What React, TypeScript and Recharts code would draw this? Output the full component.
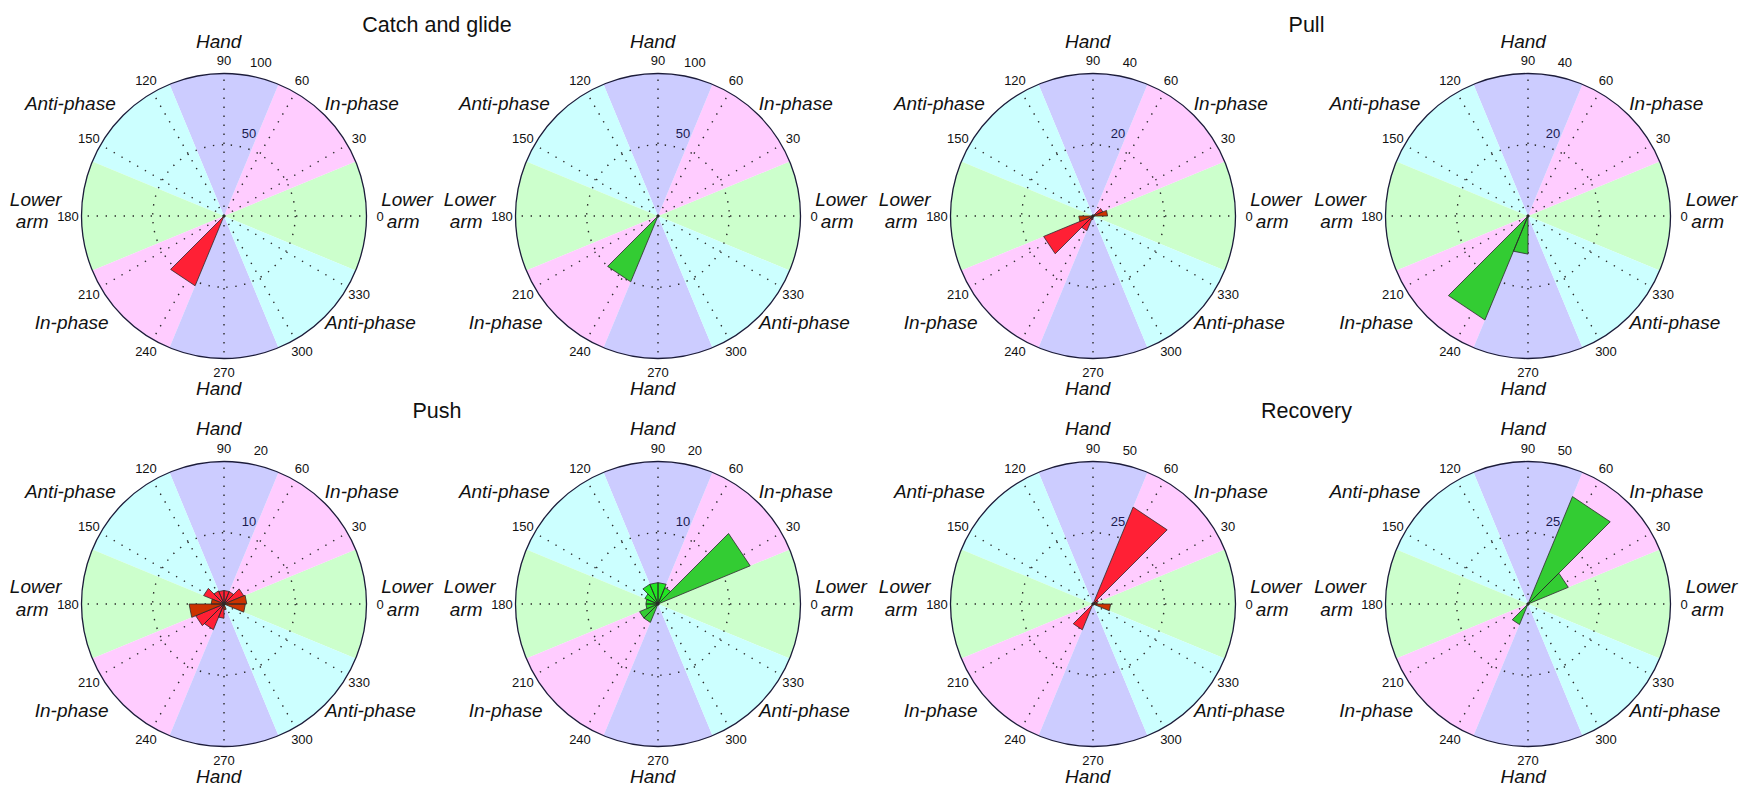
import React from 'react';
import {
  PieChart,
  Pie,
  Cell,
  RadarChart,
  Radar,
  PolarGrid,
  PolarAngleAxis,
  PolarRadiusAxis,
} from 'recharts';

// ---------------- data ----------------
// 16 angular bins of 22.5 deg, bin i spans [i*22.5, (i+1)*22.5], counter-clockwise from 0 deg
const BIN_STARTS = [0, 22.5, 45, 67.5, 90, 112.5, 135, 157.5, 180, 202.5, 225, 247.5, 270, 292.5, 315, 337.5];
const ANGLE_TICKS = [0, 30, 60, 90, 120, 150, 180, 210, 240, 270, 300, 330];
const ZONES = ['Lower arm', 'In-phase', 'Hand', 'Anti-phase', 'Lower arm', 'In-phase', 'Hand', 'Anti-phase'];
const PHASE_TITLES = ['Catch and glide', 'Pull', 'Push', 'Recovery'];
const RADIAL_MAX = [100, 40, 20, 50];

const catchRed =         [0, 0, 0, 0, 0, 0, 0, 0, 0, 0, 53, 0, 0, 0, 0, 0];
const catchRedDark =     [0, 0, 0, 0, 0, 0, 0, 0, 0, 0, 0, 0, 0, 0, 0, 0];
const catchGreen =       [0, 0, 0, 0, 0, 0, 0, 0, 0, 0, 50, 0, 0, 0, 0, 0];
const catchGreenLight =  [0, 0, 0, 0, 0, 0, 0, 0, 0, 0, 0, 0, 0, 0, 0, 0];

const pullRed =          [0, 3, 0, 0, 0, 0, 0, 0, 0, 15, 4.5, 1, 0, 0, 0, 0];
const pullRedDark =      [4.1, 0, 0, 0, 0, 0, 0, 0, 4, 0, 0, 0, 0, 0, 0, 0];
const pullGreen =        [0, 0, 0, 0, 0, 0, 0, 0, 0, 0, 31.6, 10.7, 0, 0, 0, 0];
const pullGreenLight =   [0, 0, 0, 0, 0, 0, 0, 0, 0, 0, 0, 0, 0, 0, 0, 0];

const pushRed =          [0, 3, 1.9, 1.9, 1.9, 2, 3.1, 0, 0, 4.3, 3.9, 2, 0, 0, 0, 0];
const pushRedDark =      [3.2, 0, 0, 0, 0, 0, 0, 1.8, 4.9, 0, 0, 0, 0.8, 0, 0, 3];
const pushGreen =        [0, 14, 0, 0, 0, 0, 0, 0, 0, 2.8, 2.8, 0, 0, 0, 0, 0];
const pushGreenLight =   [0, 0, 2.5, 3, 3, 3, 2, 1.7, 1.7, 0, 0, 0, 0, 0, 0, 0];

const recoveryRed =      [0, 2, 36.8, 0, 0, 0, 0, 0, 0, 0, 9.8, 0, 0, 0, 0, 0];
const recoveryRedDark =  [1.5, 0, 0, 0, 0, 0, 0, 0, 0, 0, 0, 0, 0, 0, 0, 6.2];
const recoveryGreen =    [0, 15.3, 40.8, 0, 0, 0, 0, 0, 0, 0, 7.8, 0, 0, 0, 0, 0];
const recoveryGreenLight = [0, 0, 0, 0, 0, 0, 0, 0, 0, 0, 0, 0, 0, 0, 0, 0];

// ---------------- layout / style ----------------
const FONT = "'Liberation Sans', Arial, Helvetica, sans-serif";
const R = 142.5;
const BOX = 400;
const BIN_WIDTH = 22.5;
const COL_X = [223.5, 657.5, 1092.5, 1528];
const ROW_Y = [216, 603.5];
const TITLE_X = [437, 1306.5];
const TITLE_BASELINE = [31.5, 418];

const ZONE_COLORS: Record<string, string> = {
  'Lower arm': '#ccffcc',
  'In-phase': '#ffccff',
  Hand: '#ccccff',
  'Anti-phase': '#ccffff',
};
const RED = '#ff2035';
const RED_DARK = '#cc3300';
const GREEN = '#33cc33';
const GREEN_LIGHT = '#22e622';

// category label placement around each rose (offsets from the centre, text baseline)
const ZONE_LABELS = [
  { text: 'Hand', dx: -4.8, dy: -168.3 },
  { text: 'Hand', dx: -4.8, dy: 179 },
  { text: 'In-phase', dx: 138.3, dy: -106 },
  { text: 'Anti-phase', dx: -153.2, dy: -106 },
  { text: 'In-phase', dx: -151.8, dy: 113.3 },
  { text: 'Anti-phase', dx: 146.8, dy: 113.3 },
  { text: 'Lower', dx: 183.5, dy: -10.3 },
  { text: 'arm', dx: 179.7, dy: 12.3 },
  { text: 'Lower', dx: -187.8, dy: -10.3 },
  { text: 'arm', dx: -191.3, dy: 12.3 },
];

const zoneData = ZONES.map((zone) => ({ zone, share: 1 }));

function buildRows(main: number[], alt: number[]) {
  const rows: { angle: number; main: number; alt: number }[] = [];
  BIN_STARTS.forEach((a, i) => {
    const end = a + BIN_WIDTH;
    rows.push({ angle: a, main: 0, alt: 0 });
    rows.push({ angle: a, main: main[i], alt: alt[i] });
    rows.push({ angle: end, main: main[i], alt: alt[i] });
    rows.push({ angle: end, main: 0, alt: 0 });
  });
  return rows;
}

const AngleTick = (props: any) => {
  const { x, y, payload } = props;
  return (
    <text x={x} y={y} dy="0.35em" textAnchor="middle" fontSize={13} fontFamily={FONT} fill="#111">
      {payload.value}
    </text>
  );
};

function makeRadiusTick(max: number) {
  return (props: any) => {
    const { x, y, payload } = props;
    const v = payload.value;
    let ox = 0;
    let oy = 0;
    let fill = '#111';
    if (Math.abs(v - max) < 1e-6) {
      ox = 0;
      oy = -16.4;
    } else if (Math.abs(v - max / 2) < 1e-6) {
      ox = 6.6;
      oy = -14.2;
      fill = '#1a1a50';
    } else {
      return <g />;
    }
    return (
      <text x={x + ox} y={y + oy} dy="0.35em" textAnchor="middle" fontSize={13} fontFamily={FONT} fill={fill}>
        {v}
      </text>
    );
  };
}

type PanelProps = {
  cx: number;
  cy: number;
  max: number;
  main: number[];
  alt: number[];
  mainColor: string;
  altColor: string;
};

function RosePanel({ cx, cy, max, main, alt, mainColor, altColor }: PanelProps) {
  const data = buildRows(main, alt);
  const m = { top: 0, right: 0, bottom: 0, left: 0 };
  return (
    <div style={{ position: 'absolute', left: cx - BOX / 2, top: cy - BOX / 2, width: BOX, height: BOX }}>
      <div style={{ position: 'absolute', left: 0, top: 0 }}>
        <PieChart width={BOX} height={BOX} margin={m}>
          <Pie
            data={zoneData}
            dataKey="share"
            cx={BOX / 2}
            cy={BOX / 2}
            innerRadius={0}
            outerRadius={R}
            startAngle={-22.5}
            endAngle={337.5}
            stroke="none"
            isAnimationActive={false}
          >
            {zoneData.map((z, i) => (
              <Cell key={i} fill={ZONE_COLORS[z.zone]} stroke="none" />
            ))}
          </Pie>
        </PieChart>
      </div>
      <div style={{ position: 'absolute', left: 0, top: 0 }}>
        <RadarChart
          width={BOX}
          height={BOX}
          data={data}
          cx={BOX / 2}
          cy={BOX / 2}
          innerRadius={0}
          outerRadius={R}
          startAngle={0}
          endAngle={360}
          margin={m}
        >
          <PolarGrid
            gridType="circle"
            polarAngles={ANGLE_TICKS}
            polarRadius={[R / 2]}
            stroke="#2a2a2a"
            strokeWidth={1.4}
            strokeDasharray="1.4 7.6"
          />
          <PolarAngleAxis
            dataKey="angle"
            type="number"
            domain={[0, 360]}
            ticks={ANGLE_TICKS}
            tickLine={false}
            axisLineType="circle"
            axisLine={{ stroke: '#1c1c3a', strokeWidth: 1.3 }}
            tickSize={13.5}
            tick={AngleTick}
          />
          <PolarRadiusAxis
            angle={75}
            type="number"
            domain={[0, max]}
            ticks={[max / 2, max]}
            tickCount={3}
            axisLine={false}
            tickLine={false}
            tick={makeRadiusTick(max)}
          />
          <Radar
            dataKey="main"
            fill={mainColor}
            fillOpacity={1}
            stroke="#2a2a2a"
            strokeWidth={0.8}
            isAnimationActive={false}
          />
          <Radar
            dataKey="alt"
            fill={altColor}
            fillOpacity={1}
            stroke="#2a2a2a"
            strokeWidth={0.8}
            isAnimationActive={false}
          />
        </RadarChart>
      </div>
    </div>
  );
}

const PANELS: PanelProps[] = [
  { cx: COL_X[0], cy: ROW_Y[0], max: RADIAL_MAX[0], main: catchRed, alt: catchRedDark, mainColor: RED, altColor: RED_DARK },
  { cx: COL_X[1], cy: ROW_Y[0], max: RADIAL_MAX[0], main: catchGreen, alt: catchGreenLight, mainColor: GREEN, altColor: GREEN_LIGHT },
  { cx: COL_X[2], cy: ROW_Y[0], max: RADIAL_MAX[1], main: pullRed, alt: pullRedDark, mainColor: RED, altColor: RED_DARK },
  { cx: COL_X[3], cy: ROW_Y[0], max: RADIAL_MAX[1], main: pullGreen, alt: pullGreenLight, mainColor: GREEN, altColor: GREEN_LIGHT },
  { cx: COL_X[0], cy: ROW_Y[1], max: RADIAL_MAX[2], main: pushRed, alt: pushRedDark, mainColor: RED, altColor: RED_DARK },
  { cx: COL_X[1], cy: ROW_Y[1], max: RADIAL_MAX[2], main: pushGreen, alt: pushGreenLight, mainColor: GREEN, altColor: GREEN_LIGHT },
  { cx: COL_X[2], cy: ROW_Y[1], max: RADIAL_MAX[3], main: recoveryRed, alt: recoveryRedDark, mainColor: RED, altColor: RED_DARK },
  { cx: COL_X[3], cy: ROW_Y[1], max: RADIAL_MAX[3], main: recoveryGreen, alt: recoveryGreenLight, mainColor: GREEN, altColor: GREEN_LIGHT },
];

export default function App() {
  return (
    <div style={{ position: 'absolute', left: 0, top: 0, width: 1744, height: 787, background: '#fff', overflow: 'hidden' }}>
      {PANELS.map((p, i) => (
        <RosePanel key={i} {...p} />
      ))}
      <svg
        width={1744}
        height={787}
        style={{ position: 'absolute', left: 0, top: 0, pointerEvents: 'none' }}
      >
        {PHASE_TITLES.map((t, i) => (
          <text
            key={t}
            x={TITLE_X[i % 2]}
            y={TITLE_BASELINE[Math.floor(i / 2)]}
            textAnchor="middle"
            fontSize={21.5}
            fontFamily={FONT}
            fill="#111"
          >
            {t}
          </text>
        ))}
        {PANELS.map((p, pi) =>
          ZONE_LABELS.map((l, li) => (
            <text
              key={`${pi}-${li}`}
              x={p.cx + l.dx}
              y={p.cy + l.dy}
              textAnchor="middle"
              fontSize={19}
              fontStyle="italic"
              fontFamily={FONT}
              fill="#111"
            >
              {l.text}
            </text>
          ))
        )}
      </svg>
    </div>
  );
}
